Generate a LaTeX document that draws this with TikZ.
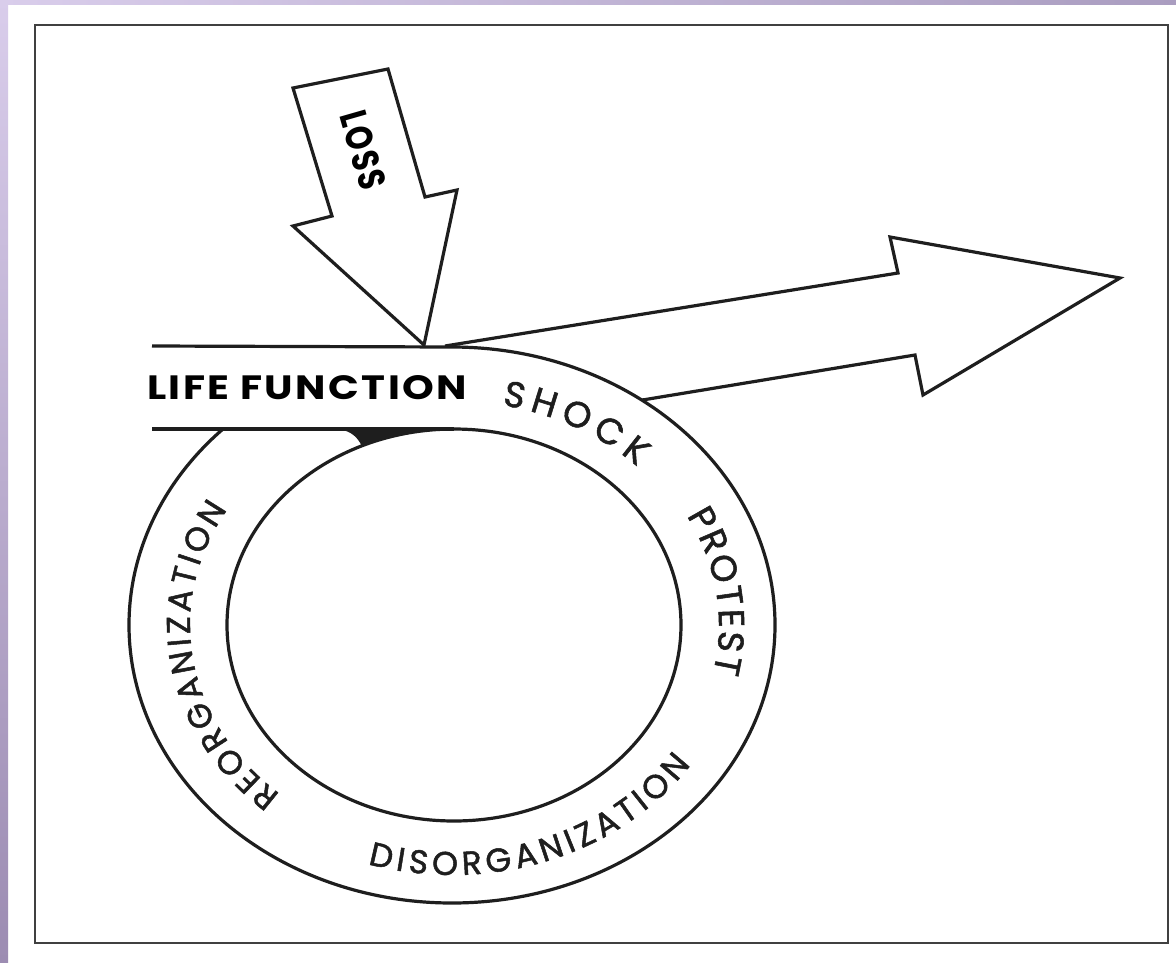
\documentclass[tikz,border=0pt]{standalone}
\usepackage{fontspec}
\usepackage{graphicx}
\newfontfamily\ringfont[FakeBold=1.5]{Poppins}
\newfontfamily\boldfont[LetterSpace=6]{Poppins}
\usetikzlibrary{decorations.text,calc}
\newcommand\rfont{\ringfont\fontsize{36pt}{36pt}\selectfont}
\newcommand\rfontlong{\ringfont\fontsize{33pt}{33pt}\selectfont}
\definecolor{lavtop}{HTML}{D9CDEB}
\definecolor{lavbot}{HTML}{9C8CB2}
\definecolor{lavright}{HTML}{AA9DC0}
\definecolor{ink}{HTML}{1E1E1E}
\begin{document}
\begin{tikzpicture}[x=1pt,y=1pt,line join=miter,
  inkline/.style={draw=ink,line width=3.2pt},
  frameline/.style={draw=ink!85,line width=2.4pt},
  ringtext/.style={decorate,decoration={text along path,text align={fit to path},text color=ink}}]
\useasboundingbox (0,0) rectangle (1176,-962);
% paper and lavender edges
\fill[white] (0,0) rectangle (1176,-962);
\shade[top color=lavtop,bottom color=lavbot] (0,0) rectangle (8,-962);
\shade[left color=lavtop,right color=lavright] (0,0) rectangle (1176,-4);
% frame
\draw[frameline] (35,-25) rectangle (1168,-943);
% centres of the ring
\coordinate (Co) at (452,-625);
\coordinate (Ci) at (454,-625);
% band and ring
\coordinate (bandTL) at (152,-346);
\coordinate (bandBL) at (152,-429);
\coordinate (ringTop) at (452,-347);
\coordinate (innerTop) at (454,-429);
\draw[inkline] (bandTL) -- (ringTop) arc[start angle=90,end angle=-224.8,x radius=323,y radius=278];
\draw[inkline] (bandBL) -- (innerTop);
\draw[inkline] (Ci) ellipse[x radius=227,y radius=196];
% ink wedge where the inner ring meets the band
\fill[ink] (338,-429) .. controls (352,-431) and (358,-438) .. ($(Ci)+(114:227 and 196)$)
  arc[start angle=114,end angle=95,x radius=227,y radius=196] -- cycle;
% LOSS arrow
\coordinate (lossTip) at (424,-345);
\draw[inkline,fill=white] (293,-88) -- (388,-69) -- (425,-197) -- (457,-190) -- (lossTip)
  -- (293,-226) -- (332,-216) -- cycle;
\node[rotate=-74,inner sep=0pt] (loss) at (363,-150)
  {\resizebox{80pt}{27pt}{\boldfont\bfseries LOSS}};
% outgoing arrow
\coordinate (upStart) at (445,-346);
\coordinate (lowStart) at ($(Co)+(54:323 and 278)$);
\coordinate (upNotch) at (898,-273);
\coordinate (headTop) at (890,-237);
\coordinate (headTip) at (1120,-278);
\coordinate (headBot) at (923,-395);
\coordinate (lowNotch) at (915,-355);
\draw[inkline] (upStart) -- (upNotch) -- (headTop) -- (headTip) -- (headBot) -- (lowNotch) -- (lowStart);
% LIFE FUNCTION
\node[inner sep=0pt] (lf) at (307,-388)
  {\resizebox{320pt}{24pt}{\boldfont\bfseries LIFE FUNCTION}};
% ring texts
\path[ringtext,decoration={text={|\rfont|SHOCK}}]
  ($(Co)+(79:262 and 224)$) arc[start angle=79,end angle=45,x radius=262,y radius=224];
\path[ringtext,decoration={text={|\rfont|PROTEST}}]
  ($(Co)+(28.5:267 and 229)$) arc[start angle=28.5,end angle=-12,x radius=267,y radius=229];
\path[ringtext,decoration={text={|\rfontlong|DISORGANIZATION}}]
  ($(Co)+(-107:288 and 250)$) arc[start angle=-107,end angle=-34,x radius=288,y radius=250];
\path[ringtext,decoration={text={|\rfontlong|REORGANIZATION}}]
  ($(Co)+(229:262 and 224)$) arc[start angle=229,end angle=149,x radius=262,y radius=224];
\end{tikzpicture}
\end{document}
